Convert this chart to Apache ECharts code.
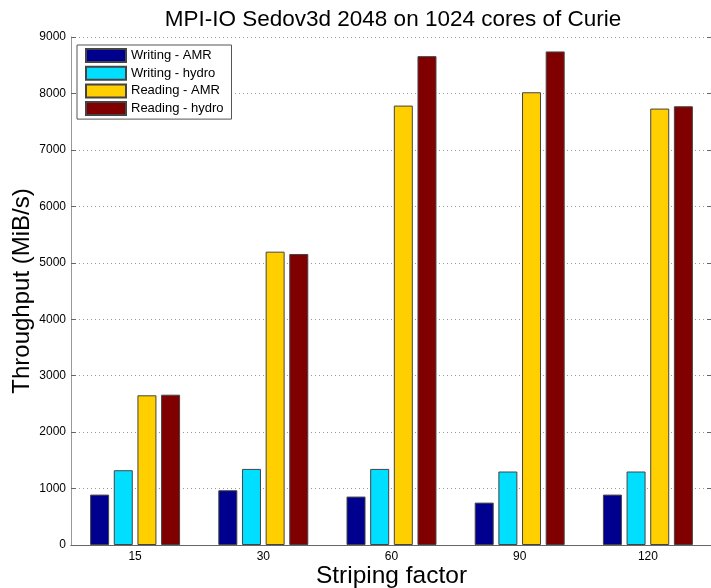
<!DOCTYPE html>
<html>
<head>
<meta charset="utf-8">
<script src="https://cdn.jsdelivr.net/npm/echarts@6/dist/echarts.min.js"></script>
<style>html,body{margin:0;padding:0;background:#fff;}#c{width:711px;height:588px;}</style>
</head>
<body>
<div id="c"></div>
<script>
const categories = ['15', '30', '60', '90', '120'];
const seriesNames = ['Writing - AMR', 'Writing - hydro', 'Reading - AMR', 'Reading - hydro'];
const writingAMR = [893, 970, 858, 751, 893];
const writingHydro = [1325, 1348, 1348, 1302, 1302];
const readingAMR = [2652, 5197, 7785, 8021, 7732];
const readingHydro = [2663, 5156, 8661, 8744, 7773];
const yTicks = [0, 1000, 2000, 3000, 4000, 5000, 6000, 7000, 8000, 9000];

const colors = ['#00008F', '#00DFFF', '#FFCF00', '#800000'];
const values = [writingAMR, writingHydro, readingAMR, readingHydro];
const font = 'Liberation Sans, Arial, Helvetica, sans-serif';

const chart = echarts.init(document.getElementById('c'), null, {renderer: 'canvas'});
chart.setOption({
  animation: false,
  backgroundColor: '#fff',
  title: {
    text: 'MPI-IO Sedov3d 2048 on 1024 cores of Curie',
    left: 388, textAlign: 'center', top: 3,
    textStyle: {fontFamily: font, fontSize: 22.5, fontWeight: 'normal', color: '#000'}
  },
  legend: {
    orient: 'vertical', left: 77, top: 45,
    itemWidth: 40, itemHeight: 13, itemGap: 2.7,
    padding: [3, 8, 3, 8],
    borderColor: '#555', borderWidth: 1, backgroundColor: '#fff',
    textStyle: {fontFamily: font, fontSize: 13, color: '#000'},
    icon: 'rect',
    data: seriesNames
  },
  grid: {left: 71, top: 37, width: 641, height: 508, containLabel: false, outerBoundsMode: 'none'},
  xAxis: [{
    type: 'category', data: categories, position: 'bottom',
    axisLine: {lineStyle: {color: '#999', width: 1}},
    axisTick: {inside: true, alignWithLabel: true, length: 6, lineStyle: {color: '#666'}},
    axisLabel: {fontFamily: font, fontSize: 12, color: '#000', margin: 6},
    name: 'Striping factor', nameLocation: 'middle', nameGap: 19, nameMoveOverlap: false,
    nameTextStyle: {fontFamily: font, fontSize: 24.5, color: '#000'}
  }, {
    type: 'category', data: categories, position: 'top',
    axisLine: {lineStyle: {color: '#666', width: 1}},
    axisTick: {inside: true, alignWithLabel: true, length: 6, lineStyle: {color: '#666'}},
    axisLabel: {show: false}
  }],
  yAxis: [{
    type: 'value', min: 0, max: 9000, interval: 1000, position: 'left',
    axisLine: {show: true, lineStyle: {color: '#999', width: 1}},
    axisTick: {show: true, inside: true, length: 5, lineStyle: {color: '#666'}},
    axisLabel: {fontFamily: font, fontSize: 12, color: '#000', margin: 5,
      formatter: v => yTicks.includes(v) ? String(v) : ''},
    splitLine: {show: true, lineStyle: {type: [1, 3], color: '#999', width: 1}},
    name: 'Throughput (MiB/s)', nameLocation: 'middle', nameGap: 37, nameMoveOverlap: false,
    nameTextStyle: {fontFamily: font, fontSize: 24, color: '#000'}
  }, {
    type: 'value', min: 0, max: 9000, interval: 1000, position: 'right',
    axisLine: {show: true, lineStyle: {color: '#666'}},
    axisTick: {show: true, inside: true, length: 5, lineStyle: {color: '#666'}},
    axisLabel: {show: false}, splitLine: {show: false}
  }],
  series: seriesNames.map((n, i) => ({
    name: n, type: 'bar', data: values[i], xAxisIndex: 0, yAxisIndex: 0,
    barWidth: 19, barGap: '24.5%',
    itemStyle: {color: colors[i], borderColor: '#444', borderWidth: 1}
  }))
});
</script>
</body>
</html>
